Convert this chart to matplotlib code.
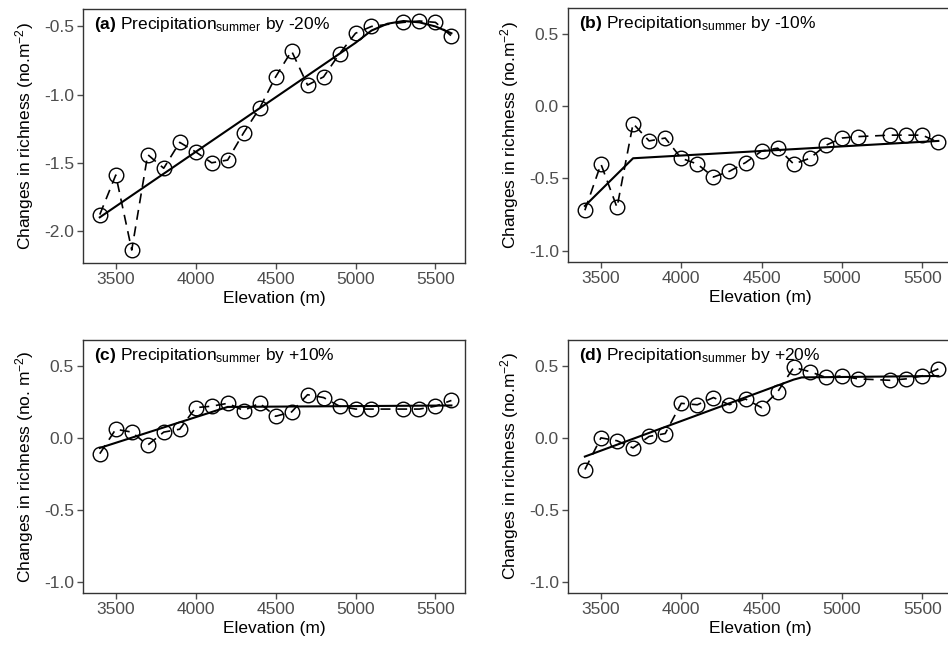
import matplotlib
matplotlib.use("Agg")
import matplotlib.pyplot as plt

plt.rcParams['font.family'] = ['Liberation Sans', 'DejaVu Sans']
plt.rcParams['mathtext.fontset'] = 'custom'
plt.rcParams['mathtext.rm'] = 'Liberation Sans'
plt.rcParams['mathtext.it'] = 'Liberation Sans:italic'
plt.rcParams['mathtext.bf'] = 'Liberation Sans:bold'
plt.rcParams['axes.unicode_minus'] = False

elev = [3400, 3500, 3600, 3700, 3800, 3900, 4000, 4100, 4200, 4300, 4400,
        4500, 4600, 4700, 4800, 4900, 5000, 5100, 5300, 5400, 5500, 5600]

rich_a = [-1.88, -1.59, -2.14, -1.44, -1.54, -1.35, -1.42, -1.50, -1.48, -1.28, -1.10,
          -0.87, -0.68, -0.93, -0.87, -0.70, -0.55, -0.50, -0.47, -0.46, -0.47, -0.57]
rich_b = [-0.72, -0.40, -0.70, -0.12, -0.24, -0.22, -0.36, -0.40, -0.49, -0.45, -0.39,
          -0.31, -0.29, -0.40, -0.36, -0.27, -0.22, -0.21, -0.20, -0.20, -0.20, -0.25]
rich_c = [-0.11, 0.06, 0.04, -0.05, 0.04, 0.06, 0.21, 0.22, 0.24, 0.19, 0.24,
          0.15, 0.18, 0.30, 0.28, 0.22, 0.20, 0.20, 0.20, 0.20, 0.22, 0.26]
rich_d = [-0.22, 0.00, -0.02, -0.07, 0.01, 0.03, 0.24, 0.23, 0.28, 0.23, 0.27,
          0.21, 0.32, 0.49, 0.46, 0.42, 0.43, 0.41, 0.40, 0.41, 0.43, 0.48]

fit_a_x = [3400, 5000, 5100, 5200, 5300, 5400, 5500, 5600]
fit_a_y = [-1.90, -0.62, -0.53, -0.48, -0.46, -0.47, -0.50, -0.55]
fit_b_x = [3400, 3700, 5600]
fit_b_y = [-0.69, -0.36, -0.24]
fit_c_x = [3400, 4200, 5600]
fit_c_y = [-0.07, 0.215, 0.225]
fit_d_x = [3400, 4700, 4750, 5600]
fit_d_y = [-0.13, 0.405, 0.42, 0.43]

titles = ["(a)", "(b)", "(c)", "(d)"]
changes = ["-20%", "-10%", "+10%", "+20%"]
ylabels = ["Changes in richness (no.m$^{-2}$)", "Changes in richness (no.m$^{-2}$)",
           "Changes in richness (no. m$^{-2}$)", "Changes in richness (no.m$^{-2}$)"]
yticks_a = [-2.0, -1.5, -1.0, -0.5]
yticks_bcd = [-1.0, -0.5, 0.0, 0.5]
xticks = [3500, 4000, 4500, 5000, 5500]

W, H = 948, 647
fig = plt.figure(figsize=(W / 100, H / 100), dpi=100)

boxes = [(83, 9, 465, 263), (568, 8, 952, 262), (83, 340, 465, 593), (568, 340, 952, 593)]
data = [(rich_a, fit_a_x, fit_a_y, (-2.235, -0.372), yticks_a),
        (rich_b, fit_b_x, fit_b_y, (-1.078, 0.68), yticks_bcd),
        (rich_c, fit_c_x, fit_c_y, (-1.078, 0.68), yticks_bcd),
        (rich_d, fit_d_x, fit_d_y, (-1.078, 0.68), yticks_bcd)]

for i, ((l, t, r, b), (ys, fx, fy, ylim, yt)) in enumerate(zip(boxes, data)):
    ax = fig.add_axes([l / W, (H - b) / H, (r - l) / W, (b - t) / H])
    ax.plot(elev, ys, color='black', lw=1.2, ls=(0, (6, 4)), zorder=2)
    ax.plot(fx, fy, color='black', lw=1.5, zorder=3)
    ax.plot(elev, ys, ls='none', marker='o', ms=10.5, mfc='none', mec='black', mew=1.0, zorder=4)
    ax.set_xlim(3295, 5685)
    ax.set_ylim(*ylim)
    ax.set_xticks(xticks)
    ax.set_yticks(yt)
    ax.set_yticklabels([f"{v:.1f}" for v in yt])
    ax.tick_params(labelsize=12.5, colors='#4D4D4D', length=4, width=1.0, pad=2.5)
    for sp in ax.spines.values():
        sp.set_color('#333333')
        sp.set_linewidth(1.0)
    ax.set_xlabel("Elevation (m)", fontsize=12.5, color='black', labelpad=3)
    ax.set_ylabel(ylabels[i], fontsize=12.5, color='black', labelpad=6)
    ax.text(0.028, 0.975, r"$\mathbf{" + titles[i] + r"}$ Precipitation$_{\mathregular{summer}}$ by " + changes[i],
            transform=ax.transAxes, ha='left', va='top', fontsize=12.5)

fig.savefig("out.png", dpi=100)
